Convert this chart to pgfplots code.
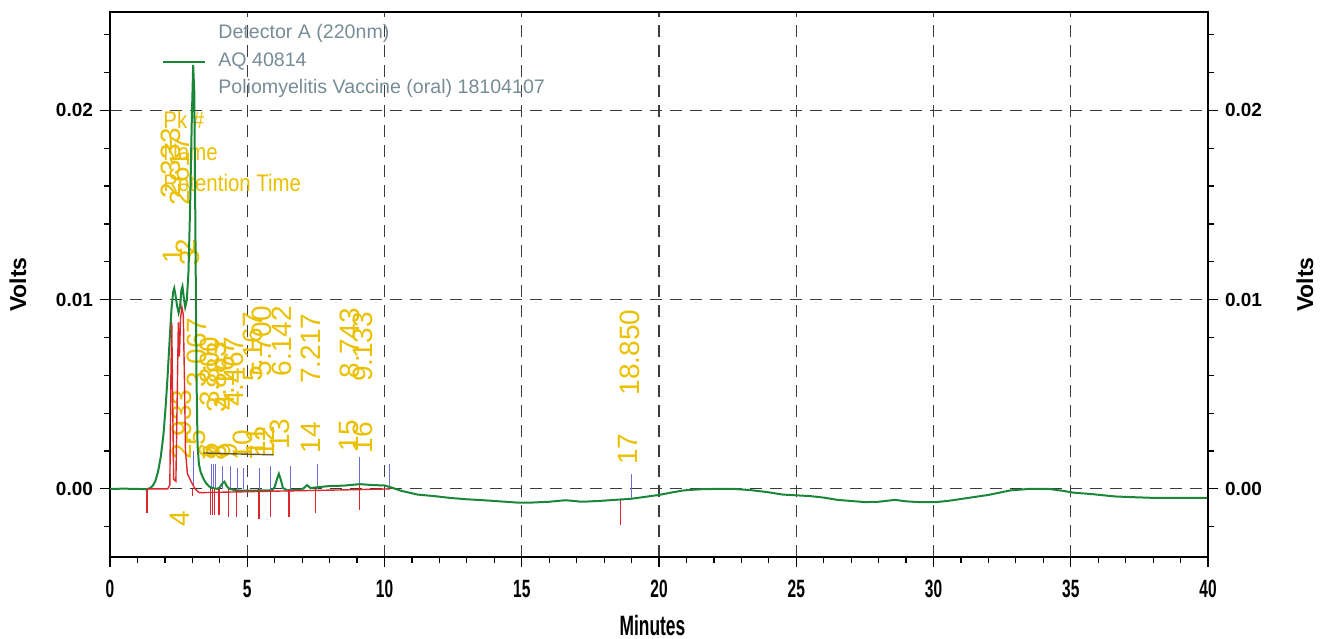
\documentclass[border=0pt]{standalone}
\usepackage{fontspec}
\setmainfont{Liberation Sans}
\newfontfamily\narrowfont{Liberation Sans}[FakeStretch=0.62]
\newfontfamily\midfont{Liberation Sans}[FakeStretch=0.85]
\usepackage{pgfplots}
\pgfplotsset{compat=1.18}
\definecolor{trgreen}{RGB}{25,135,55}
\definecolor{trred}{RGB}{220,40,45}
\definecolor{trblue}{RGB}{110,110,215}
\definecolor{pkyellow}{RGB}{234,192,0}
\definecolor{leggrey}{RGB}{118,140,150}
\definecolor{gridgrey}{RGB}{60,60,60}
\definecolor{olivedark}{RGB}{95,85,30}
\tikzset{pk/.style={text=pkyellow, font=\fontsize{14}{14}\selectfont, rotate=90, anchor=center, inner sep=0pt}}
\begin{document}
\begin{tikzpicture}
\pgfplotsset{
  base/.style={
    width=549pt, height=272.5pt, scale only axis,
    xmin=0, xmax=40, ymin=-0.0036, ymax=0.0252,
    ytick={0,0.01,0.02},
    yticklabels={0.00,0.01,0.02},
    minor ytick={-0.002,0.002,0.004,0.006,0.008,0.012,0.014,0.016,0.018,0.022,0.024},
    tick align=outside,
    major tick length=5pt, minor tick length=3pt,
    axis line style={line width=0.9pt},
    every tick/.style={black, line width=0.6pt},
    yticklabel style={font=\bfseries\fontsize{9.5}{10}\selectfont},
    scaled y ticks=false,
  },
}
\begin{axis}[base, name=ax,
  xtick={0,5,...,40},
  xticklabels={0,5,10,15,20,25,30,35,40},
  minor x tick num=4,
  xtick pos=bottom, ytick pos=left,
  xticklabel style={font=\narrowfont\bfseries\fontsize{12.5}{12.5}\selectfont, yshift=-3pt},
  grid=major,
  major grid style={gridgrey, line width=0.6pt, dash pattern=on 6pt off 4pt},
  xlabel={Minutes}, ylabel={Volts},
  every axis x label/.style={at={(rel axis cs:0.494,0)}, yshift=-34pt, anchor=center, font=\narrowfont\bfseries\fontsize{14}{14}\selectfont},
  every axis y label/.style={at={(rel axis cs:0,0.5)}, xshift=-46pt, rotate=90, anchor=center, font=\bfseries\fontsize{11.5}{12}\selectfont},
  clip mode=individual,
  unbounded coords=jump,
]
% legend block
\draw[trgreen, line width=1.2pt] ([shift={(26.5pt,-25pt)}]rel axis cs:0,1) -- ([shift={(47.5pt,-25pt)}]rel axis cs:0,1);
\node[anchor=west, inner sep=0pt, text=leggrey, font=\fontsize{9.8}{10}\selectfont] at ([shift={(54pt,-10.5pt)}]rel axis cs:0,1) {Detector A (220nm)};
\node[anchor=west, inner sep=0pt, text=leggrey, font=\fontsize{9.8}{10}\selectfont] at ([shift={(54pt,-25pt)}]rel axis cs:0,1) {AQ 40814};
\node[anchor=west, inner sep=0pt, text=leggrey, font=\fontsize{9.8}{10}\selectfont] at ([shift={(54pt,-38pt)}]rel axis cs:0,1) {Poliomyelitis Vaccine (oral) 18104107};
\node[anchor=west, inner sep=0pt, text=pkyellow, font=\midfont\fontsize{12}{12}\selectfont] at ([shift={(26.5pt,-54pt)}]rel axis cs:0,1) {Pk \#};
\node[anchor=west, inner sep=0pt, text=pkyellow, font=\midfont\fontsize{12}{12}\selectfont] at ([shift={(26.5pt,-70pt)}]rel axis cs:0,1) {Name};
\node[anchor=west, inner sep=0pt, text=pkyellow, font=\midfont\fontsize{12}{12}\selectfont] at ([shift={(26.5pt,-85.5pt)}]rel axis cs:0,1) {Retention Time};
% peak labels
\node[pk] at (axis cs:2.20,0.0172) {2.333};
\node[pk] at (axis cs:2.55,0.0168) {2.617};
\node[pk] at (axis cs:2.30,0.0123) {1};
\node[pk] at (axis cs:2.75,0.0128) {2};
\node[pk] at (axis cs:2.90,0.0122) {3};
\node[pk] at (axis cs:2.62,0.0034) {2.933};
\node[pk] at (axis cs:2.55,-0.0016) {4};
\node[pk] at (axis cs:3.15,0.0027) {5};
\node[pk] at (axis cs:3.60,0.0020) {6};
\node[pk] at (axis cs:3.75,0.0019) {7};
\node[pk] at (axis cs:3.90,0.0019) {8};
\node[pk] at (axis cs:4.30,0.0020) {9};
\node[pk] at (axis cs:4.85,0.0023) {10};
\node[pk] at (axis cs:5.30,0.0025) {11};
\node[pk] at (axis cs:5.65,0.0025) {12};
\node[pk] at (axis cs:6.20,0.0029) {13};
\node[pk] at (axis cs:7.30,0.0027) {14};
\node[pk] at (axis cs:8.70,0.0028) {15};
\node[pk] at (axis cs:9.20,0.0027) {16};
\node[pk] at (axis cs:18.85,0.0021) {17};
\node[pk] at (axis cs:3.17,0.0072) {3.067};
\node[pk] at (axis cs:3.65,0.0062) {3.800};
\node[pk] at (axis cs:3.90,0.0059) {3.883};
\node[pk] at (axis cs:4.20,0.0060) {4.167};
\node[pk] at (axis cs:4.50,0.0062) {4.467};
\node[pk] at (axis cs:5.20,0.0075) {5.167};
\node[pk] at (axis cs:5.55,0.0078) {5.700};
\node[pk] at (axis cs:6.25,0.0078) {6.142};
\node[pk] at (axis cs:7.30,0.0074) {7.217};
\node[pk] at (axis cs:8.75,0.0077) {8.743};
\node[pk] at (axis cs:9.20,0.0075) {9.133};
\node[pk] at (axis cs:18.95,0.0072) {18.850};
% olive line
\addplot[olivedark, line width=0.7pt] coordinates {(3.4,0.0019) (4.5,0.00185) (5.95,0.0018)};
% blue event marks
\addplot[trblue, line width=0.5pt] coordinates {
(3.05,0.0002)(3.05,0.0020)(3.05,nan)
(3.70,0)(3.70,0.0013)(3.70,nan)
(3.77,0)(3.77,0.0013)(3.77,nan)
(3.85,0)(3.85,0.0013)(3.85,nan)
(4.09,0)(4.09,0.0012)(4.09,nan)
(4.38,0)(4.38,0.0012)(4.38,nan)
(4.63,0)(4.63,0.0011)(4.63,nan)
(4.88,0)(4.88,0.0011)(4.88,nan)
(5.43,-0.0001)(5.43,0.0011)(5.43,nan)
(5.84,-0.0001)(5.84,0.0012)(5.84,nan)
(6.57,-0.0001)(6.57,0.0012)(6.57,nan)
(7.55,0)(7.55,0.0013)(7.55,nan)
(9.08,0.0002)(9.08,0.0017)(9.08,nan)
(10.20,0.0001)(10.20,0.0013)(10.20,nan)
(19.00,-0.0005)(19.00,0.0008)
};
% red event marks
\addplot[trred, line width=0.6pt] coordinates {
(1.35,0)(1.35,-0.0013)(1.35,nan)
(3.00,0)(3.00,-0.0004)(3.00,nan)
(3.65,0)(3.65,-0.0014)(3.65,nan)
(3.72,0)(3.72,-0.0014)(3.72,nan)
(3.80,0)(3.80,-0.0014)(3.80,nan)
(3.97,0)(3.97,-0.0014)(3.97,nan)
(4.33,0)(4.33,-0.0015)(4.33,nan)
(4.60,0)(4.60,-0.0015)(4.60,nan)
(5.43,0)(5.43,-0.0016)(5.43,nan)
(5.84,0)(5.84,-0.0015)(5.84,nan)
(6.52,0)(6.52,-0.0015)(6.52,nan)
(7.49,0)(7.49,-0.0013)(7.49,nan)
(9.08,0.0002)(9.08,-0.0011)(9.08,nan)
(18.60,-0.0006)(18.60,-0.0019)
};
% green trace
\addplot[trgreen, line width=1.0pt] coordinates {
(0,0.00000)(0.5,0.00001)(1.0,0.00000)(1.3,-0.00002)(1.45,0.00003)(1.55,0.00015)(1.65,0.00040)(1.75,0.00090)(1.85,0.00170)(1.95,0.00290)(2.03,0.00440)(2.10,0.00600)(2.17,0.00780)(2.24,0.00950)(2.30,0.01040)(2.34,0.01060)(2.38,0.01030)(2.44,0.00970)(2.50,0.00930)(2.55,0.00960)(2.60,0.01050)(2.64,0.01070)(2.69,0.01010)(2.74,0.00960)(2.80,0.01000)(2.86,0.01150)(2.92,0.01500)(2.98,0.01950)(3.03,0.02240)(3.07,0.02100)(3.11,0.01400)(3.15,0.00600)(3.19,0.00230)(3.24,0.00130)(3.30,0.00090)(3.40,0.00055)(3.50,0.00030)(3.62,0.00012)(3.75,0.00004)(3.90,0.00000)(4.00,0.00008)(4.10,0.00030)(4.17,0.00038)(4.25,0.00015)(4.35,0.00000)(4.60,-0.00008)(5.00,-0.00010)(5.50,-0.00008)(5.90,-0.00008)(6.00,0.00010)(6.08,0.00050)(6.15,0.00080)(6.22,0.00050)(6.30,0.00005)(6.45,-0.00008)(6.90,-0.00006)(7.05,0.00003)(7.18,0.00020)(7.30,0.00004)(7.50,0.00008)(8.00,0.00015)(8.50,0.00017)(9.10,0.00025)(9.60,0.00020)(10.00,0.00018)(10.30,0.00005)(10.6,-0.00010)(11.2,-0.00030)(11.8,-0.00038)(12.4,-0.00048)(13.0,-0.00055)(13.6,-0.00060)(14.2,-0.00066)(14.8,-0.00072)(15.4,-0.00072)(16.0,-0.00068)(16.6,-0.00060)(17.2,-0.00068)(17.8,-0.00064)(18.4,-0.00058)(19.0,-0.00052)(19.5,-0.00042)(20.0,-0.00032)(20.5,-0.00018)(20.9,-0.00008)(21.5,-0.00002)(22.1,0.00000)(22.7,0.00000)(23.3,-0.00006)(23.9,-0.00016)(24.5,-0.00030)(25.0,-0.00034)(25.5,-0.00038)(26.0,-0.00046)(26.5,-0.00058)(27.0,-0.00064)(27.5,-0.00070)(28.0,-0.00068)(28.6,-0.00058)(29.0,-0.00066)(29.5,-0.00070)(30.1,-0.00070)(30.6,-0.00062)(31.3,-0.00047)(32.0,-0.00032)(32.8,-0.00008)(33.5,0.00000)(34.2,0.00000)(34.7,-0.00010)(35.1,-0.00020)(35.8,-0.00028)(36.6,-0.00040)(37.3,-0.00044)(37.9,-0.00047)(39.0,-0.00047)(40,-0.00047)
};
% red trace
\addplot[trred, line width=0.7pt] coordinates {
(1.35,0)(2.10,0)(2.18,0.0002)(2.22,0.0060)(2.25,0.0088)(2.28,0.0050)(2.32,0.0005)(2.40,0.0004)(2.45,0.0050)(2.49,0.0088)(2.53,0.0070)(2.57,0.0090)(2.62,0.0096)(2.67,0.0092)(2.71,0.0060)(2.75,0.0020)(2.82,0.0008)(2.95,0.0004)(3.10,0.0000)(3.25,-0.00020)(6.0,-0.00012)(9.0,-0.00004)(10.2,0.0000)
};
\end{axis}
\begin{axis}[base, at={(ax.south west)}, anchor=south west,
  axis x line=none, axis y line*=right,
  ylabel={Volts},
  every axis y label/.style={at={(rel axis cs:1,0.5)}, xshift=48.5pt, rotate=90, anchor=center, font=\bfseries\fontsize{11.5}{12}\selectfont},
]
\addplot[draw=none] coordinates {(0,0)};
\end{axis}
\pgfresetboundingbox
\path (ax.south west) ++(-55pt,-40.5pt) rectangle ([shift={(61.5pt,6pt)}]ax.north east);
\end{tikzpicture}
\end{document}
